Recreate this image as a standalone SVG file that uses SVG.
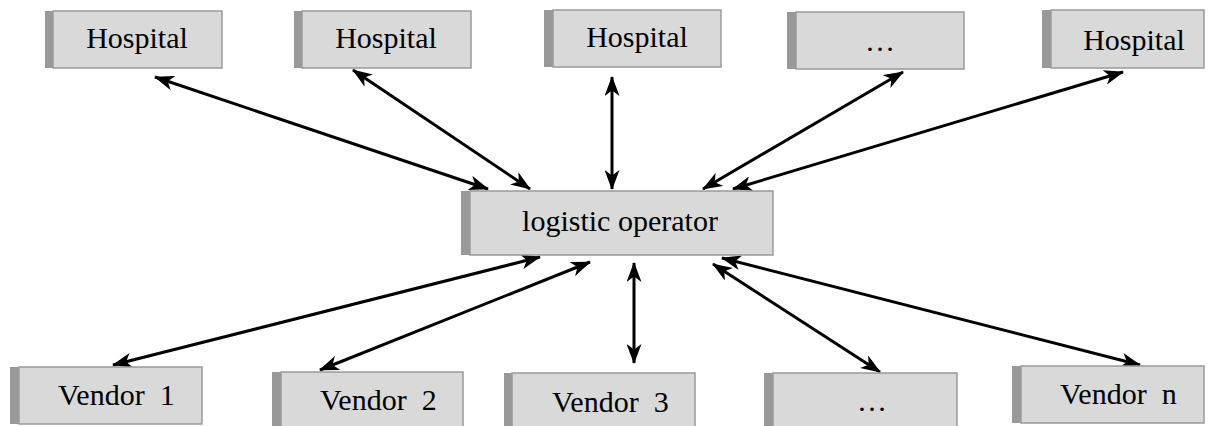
<svg xmlns="http://www.w3.org/2000/svg" width="1216" height="426" viewBox="0 0 1216 426">
<style>
.sh{fill:#999999;}
.bx{fill:#d9d9d9;stroke:#9a9a9a;stroke-width:1.5;}
.t{font-family:'Liberation Serif','Times New Roman',serif;font-size:30px;fill:#000;}
.c{text-anchor:middle;}
.ln{stroke:#000;stroke-width:3;fill:none;marker-start:url(#ah);marker-end:url(#ah);}
</style>
<defs>
<marker id="ah" viewBox="0 0 20 15" refX="19" refY="7.5" markerWidth="20" markerHeight="15" markerUnits="userSpaceOnUse" orient="auto-start-reverse">
<path d="M0,0 L20,7.5 L0,15 L5.5,7.5 z" fill="#000"/>
</marker>
</defs>
<rect width="1216" height="426" fill="#fff"/>
<g id="connectors">
<line class="ln" x1="155" y1="77" x2="488" y2="189"/>
<line class="ln" x1="353" y1="70" x2="530" y2="189"/>
<line class="ln" x1="612" y1="77" x2="612" y2="189"/>
<line class="ln" x1="903" y1="72" x2="703" y2="189"/>
<line class="ln" x1="1123" y1="72" x2="733" y2="189"/>
<line class="ln" x1="113" y1="365" x2="540" y2="257"/>
<line class="ln" x1="320" y1="370" x2="590" y2="262"/>
<line class="ln" x1="634" y1="363" x2="634" y2="263"/>
<line class="ln" x1="880" y1="372" x2="713" y2="264"/>
<line class="ln" x1="1140" y1="365" x2="722" y2="258"/>
</g>
<g id="hospital1">
<rect class="sh" x="45" y="11" width="10" height="57"/>
<rect class="bx" x="53" y="11" width="169" height="57"/>
<text class="t c" x="137" y="48">Hospital</text>
</g>
<g id="hospital2">
<rect class="sh" x="294" y="11" width="10" height="57"/>
<rect class="bx" x="302" y="11" width="169" height="57"/>
<text class="t c" x="386" y="48">Hospital</text>
</g>
<g id="hospital3">
<rect class="sh" x="544" y="10" width="10" height="57"/>
<rect class="bx" x="553" y="10" width="168" height="57"/>
<text class="t c" x="637" y="47">Hospital</text>
</g>
<g id="hospital-more">
<rect class="sh" x="787" y="12" width="10" height="57"/>
<rect class="bx" x="796" y="12" width="168" height="57"/>
<text class="t c" x="880" y="51">…</text>
</g>
<g id="hospital5">
<rect class="sh" x="1042" y="10" width="10" height="58"/>
<rect class="bx" x="1051" y="10" width="153" height="58"/>
<text class="t c" x="1134" y="50">Hospital</text>
</g>
<g id="logistic-operator">
<rect class="sh" x="461" y="191" width="10" height="64"/>
<rect class="bx" x="470" y="191" width="303" height="64"/>
<text class="t c" x="620" y="231">logistic operator</text>
</g>
<g id="vendor1">
<rect class="sh" x="10" y="367" width="10" height="57"/>
<rect class="bx" x="19" y="367" width="183" height="57"/>
<text class="t" x="58" y="405" xml:space="preserve">Vendor  1</text>
</g>
<g id="vendor2">
<rect class="sh" x="272" y="372" width="10" height="57"/>
<rect class="bx" x="281" y="372" width="182" height="57"/>
<text class="t" x="320" y="410" xml:space="preserve">Vendor  2</text>
</g>
<g id="vendor3">
<rect class="sh" x="504" y="373" width="10" height="57"/>
<rect class="bx" x="512" y="373" width="183" height="57"/>
<text class="t" x="552" y="412" xml:space="preserve">Vendor  3</text>
</g>
<g id="vendor-more">
<rect class="sh" x="764" y="373" width="10" height="57"/>
<rect class="bx" x="773" y="373" width="184" height="57"/>
<text class="t c" x="872" y="411">…</text>
</g>
<g id="vendorn">
<rect class="sh" x="1012" y="366" width="10" height="57"/>
<rect class="bx" x="1021" y="366" width="183" height="57"/>
<text class="t" x="1060" y="404" xml:space="preserve">Vendor  n</text>
</g>
</svg>
